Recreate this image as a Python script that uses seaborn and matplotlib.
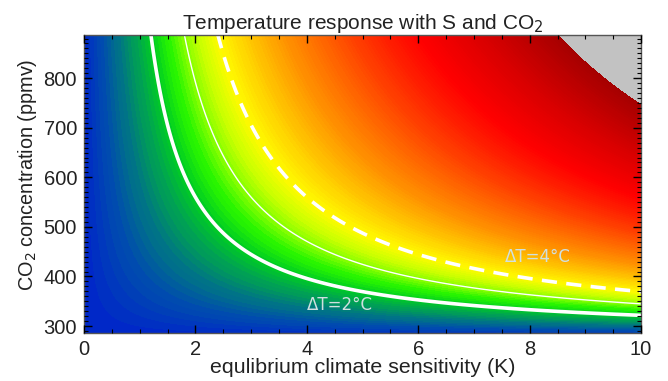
import numpy as np
import matplotlib
matplotlib.use("Agg")
import matplotlib.pyplot as plt
from matplotlib.colors import LinearSegmentedColormap
from matplotlib.ticker import MultipleLocator
import seaborn as sns

# ---- data ----
sensitivity = np.linspace(0.0, 10.0, 501)        # K
co2 = np.linspace(280.0, 890.0, 501)             # ppmv
co2_ref = 280.0
line_levels = [2.0, 3.0, 4.0]
line_widths = [2.6, 1.0, 2.6]
label_texts = ["ΔT=2°C", "ΔT=4°C"]
label_S = [4.6, 8.15]
label_C = [342, 440]
x_ticks = [0, 2, 4, 6, 8, 10]
y_ticks = [300, 400, 500, 600, 700, 800]
max_dT = 14.2

S, C = np.meshgrid(sensitivity, co2)
response = S * np.log2(C / co2_ref)

# ---- style ----
sns.set_theme(style="ticks")
plt.rcParams['font.family'] = ['Liberation Sans', 'DejaVu Sans']
plt.rcParams['xtick.direction'] = 'in'
plt.rcParams['ytick.direction'] = 'in'

nodes = [
    (0.0, (0, 40, 200)), (0.5, (0, 75, 175)), (1.0, (0, 115, 135)),
    (1.5, (0, 160, 85)), (2.0, (0, 205, 35)), (2.5, (40, 245, 0)),
    (3.0, (140, 255, 0)), (3.5, (210, 255, 0)), (4.0, (255, 250, 0)),
    (5.0, (255, 195, 0)), (6.0, (255, 145, 0)), (7.0, (255, 105, 0)),
    (8.0, (255, 65, 0)), (9.0, (255, 30, 0)), (10.0, (255, 0, 0)),
    (12.0, (215, 0, 0)), (max_dT, (165, 0, 0)),
]
cmap = LinearSegmentedColormap.from_list(
    "resp", [(v / max_dT, tuple(c / 255 for c in rgb)) for v, rgb in nodes])
cmap.set_over('#c2c2c2')

fig = plt.figure(figsize=(6.68, 3.81), dpi=100)
ax = fig.add_axes([0.1257, 0.126, 0.834, 0.782])
ax.set_axisbelow(False)

levels = np.arange(0, max_dT + 0.001, 0.1)
ax.contourf(S, C, response, levels=levels, cmap=cmap, extend='max')

ax.contour(S, C, response, levels=line_levels, colors='white',
           linewidths=line_widths,
           linestyles=['solid', 'solid', (0, (4.2, 2.6))])

for t, xs, yc in zip(label_texts, label_S, label_C):
    ax.text(xs, yc, t, color='#d0e0e0', fontsize=12, ha='center', va='center',
            family=['DejaVu Sans'])

ax.set_xlim(0, 10)
ax.set_ylim(286, 887)
ax.set_xticks(x_ticks)
ax.set_yticks(y_ticks)
ax.xaxis.set_minor_locator(MultipleLocator(0.5))
ax.yaxis.set_minor_locator(MultipleLocator(10))
ax.tick_params(which='both', top=True, right=True, color='black',
               labelcolor='#222222', labelsize=14.5)
ax.tick_params(which='major', length=6, width=1, pad=5)
ax.tick_params(which='minor', length=3, width=0.8)
for sp in ax.spines.values():
    sp.set_color('#555555')
    sp.set_linewidth(1)

ax.set_xlabel("equlibrium climate sensitivity (K)", fontsize=15.4,
              color='#222222')
ax.set_ylabel("CO$_2$ concentration (ppmv)", fontsize=14.3,
              color='#222222')
ax.xaxis.set_label_coords(0.5, -0.085)
ax.yaxis.set_label_coords(-0.08, 0.53)
ax.set_title("Temperature response with S and CO$_2$", fontsize=15, pad=3,
             color='#222222')

fig.savefig("out.png", dpi=100)
